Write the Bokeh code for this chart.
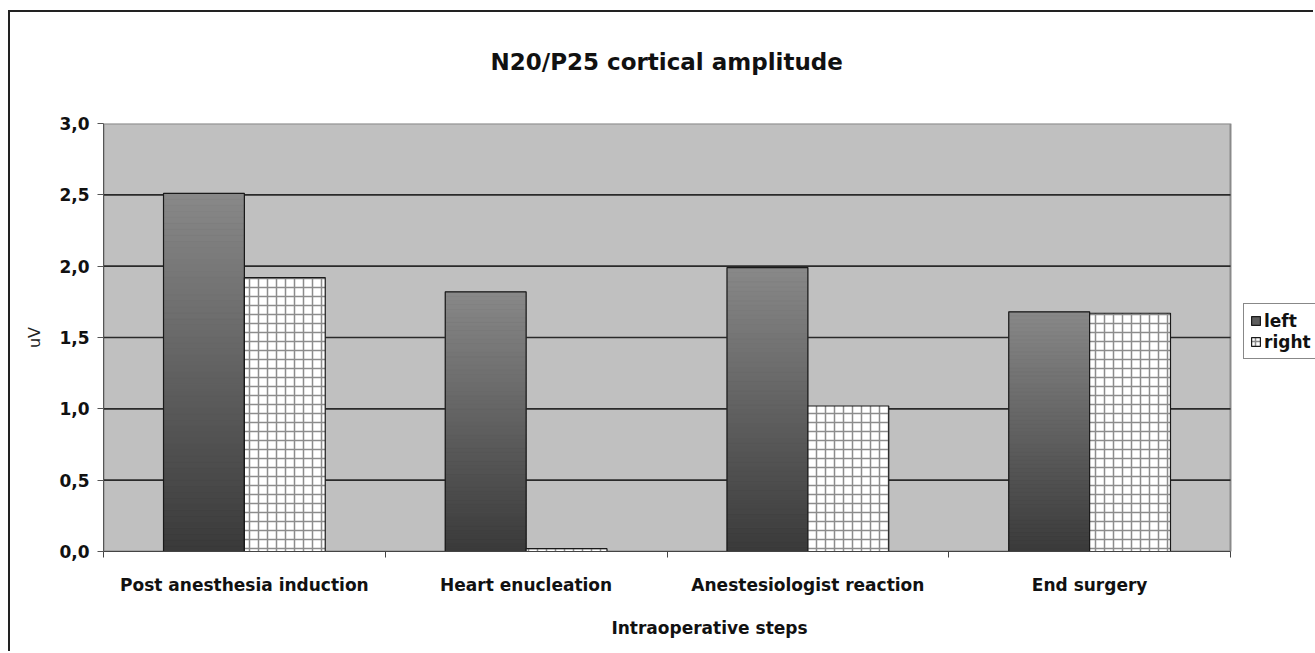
import numpy as np
from bokeh.plotting import figure
from bokeh.models import (FixedTicker, CustomJSTickFormatter, Legend, LegendItem,
                          ColumnDataSource, Range1d)
from bokeh.embed import file_html
from bokeh.resources import INLINE

# ---- data ----
categories = ["Post anesthesia induction", "Heart enucleation",
              "Anestesiologist reaction", "End surgery"]
left_values = [2.51, 1.82, 1.99, 1.68]
right_values = [1.92, 0.02, 1.02, 1.67]
y_ticks = [0.0, 0.5, 1.0, 1.5, 2.0, 2.5, 3.0]
series_names = ["left", "right"]
title_text = "N20/P25 cortical amplitude"
x_title = "Intraoperative steps"
y_title = "uV"

FONT = "DejaVu Sans"
BAR_W = 0.287
N_SLICES = 60

n_cat = len(categories)
y_max = y_ticks[-1]
# frame spans the plot area (1127 px) plus the legend strip (85 px)
x_end = n_cat * (1127 + 85) / 1127

p = figure(width=1305, height=641,
           x_range=Range1d(0, x_end), y_range=Range1d(0, y_max),
           output_backend="svg", toolbar_location=None,
           min_border_left=93, min_border_right=0,
           min_border_top=111, min_border_bottom=102,
           background_fill_color="white", border_fill_color="white",
           styles={"border-left": "2px solid #222", "border-top": "2px solid #222",
                   "margin-left": "8px", "margin-top": "10px"})
p.outline_line_color = None

# title (a trailing blank line lifts the text away from the plot area)
p.title.text = title_text + "\n "
p.title.align = "left"
p.title.offset = 387
p.title.text_font = FONT
p.title.text_font_size = "23px"
p.title.text_font_style = "bold"
p.title.text_color = "#111111"
p.title.standoff = 46

# plot area background
p.quad(left=[0], right=[n_cat], bottom=[0], top=[y_max],
       fill_color="#c0c0c0", line_color="#8a8a8a", line_width=2)

# horizontal grid lines
grid_vals = [t for t in y_ticks if 0 < t < y_max]
p.segment(x0=[0] * len(grid_vals), x1=[n_cat] * len(grid_vals),
          y0=grid_vals, y1=grid_vals, line_color="#2a2a2a", line_width=1.6)

centers = np.arange(n_cat) + 0.5
left_x = centers - BAR_W / 2
right_x = centers + BAR_W / 2

# left series: base fill (for legend) + gradient slices + outline
base_src = ColumnDataSource(dict(x=left_x, top=left_values))
left_fill = p.vbar(x="x", top="top", width=BAR_W, bottom=0, source=base_src,
                   fill_color="#5e5e5e", line_color=None)

top_c = np.array([0x88, 0x88, 0x88], dtype=float)
bot_c = np.array([0x3a, 0x3a, 0x3a], dtype=float)
sx, sb, st, sc = [], [], [], []
for xi, v in zip(left_x, left_values):
    for k in range(N_SLICES):
        t = k / (N_SLICES - 1)
        c = bot_c + (top_c - bot_c) * t
        sx.append(xi)
        sb.append(v * k / N_SLICES)
        st.append(v * (k + 1) / N_SLICES)
        sc.append("#%02x%02x%02x" % tuple(int(round(q)) for q in c))
p.vbar(x=sx, bottom=sb, top=st, width=BAR_W, fill_color=sc, line_color=sc,
       line_width=0.6)
left_outline = p.vbar(x="x", top="top", width=BAR_W, bottom=0, source=base_src,
                      fill_color=None, line_color="#1a1a1a", line_width=1.2)

# right series: hatched white
right_src = ColumnDataSource(dict(x=right_x, top=right_values))
right_r = p.vbar(x="x", top="top", width=BAR_W, bottom=0, source=right_src,
                 fill_color="white", hatch_pattern="+", hatch_color="#8c8c8c",
                 hatch_scale=9, hatch_weight=1.5,
                 line_color="#1a1a1a", line_width=1.2)

p.xgrid.visible = False
p.ygrid.visible = False

# y axis
yax = p.yaxis[0]
yax.ticker = FixedTicker(ticks=y_ticks)
yax.formatter = CustomJSTickFormatter(code="return tick.toFixed(1).replace('.', ',');")
yax.major_tick_out = 6
yax.major_tick_in = 0
yax.minor_tick_line_color = None
yax.axis_line_color = "#555555"
yax.major_tick_line_color = "#555555"
yax.major_label_text_font = FONT
yax.major_label_text_font_size = "17px"
yax.major_label_text_font_style = "bold"
yax.major_label_text_color = "#111111"
yax.major_label_standoff = 8
yax.axis_label = y_title
yax.axis_label_text_font = FONT
yax.axis_label_text_font_size = "16px"
yax.axis_label_text_font_style = "normal"
yax.axis_label_text_color = "#222222"
yax.axis_label_standoff = 12

# x axis: ticks at category boundaries, labels at centres
xax = p.xaxis[0]
xax.bounds = (0, n_cat)
xax.ticker = FixedTicker(ticks=list(centers),
                         minor_ticks=list(range(n_cat + 1)))
xax.major_label_overrides = {float(c): lab for c, lab in zip(centers, categories)}
xax.major_tick_line_color = None
xax.major_tick_out = 0
xax.major_tick_in = 0
xax.minor_tick_out = 6
xax.minor_tick_in = 0
xax.minor_tick_line_color = "#444444"
xax.axis_line_color = "#444444"
xax.major_label_text_font = FONT
xax.major_label_text_font_size = "17px"
xax.major_label_text_font_style = "bold"
xax.major_label_text_color = "#111111"
xax.major_label_standoff = 17
xax.axis_label = x_title
xax.axis_label_text_font = FONT
xax.axis_label_text_font_size = "17px"
xax.axis_label_text_font_style = "bold"
xax.axis_label_text_color = "#111111"
xax.axis_label_standoff = 20

# legend (right of the plot area)
legend = Legend(items=[LegendItem(label=series_names[0], renderers=[left_fill, left_outline]),
                       LegendItem(label=series_names[1], renderers=[right_r])],
                location=(1140, 192), orientation="vertical",
                border_line_color="#111111", border_line_width=1,
                background_fill_color="white", background_fill_alpha=1.0,
                padding=6, spacing=0, margin=0,
                glyph_width=11, glyph_height=11, label_standoff=3, label_height=21,
                label_text_font=FONT, label_text_font_size="17px",
                label_text_font_style="bold", label_text_color="#111111")
p.add_layout(legend, "center")

open("out.html", "w").write(file_html(p, INLINE))
